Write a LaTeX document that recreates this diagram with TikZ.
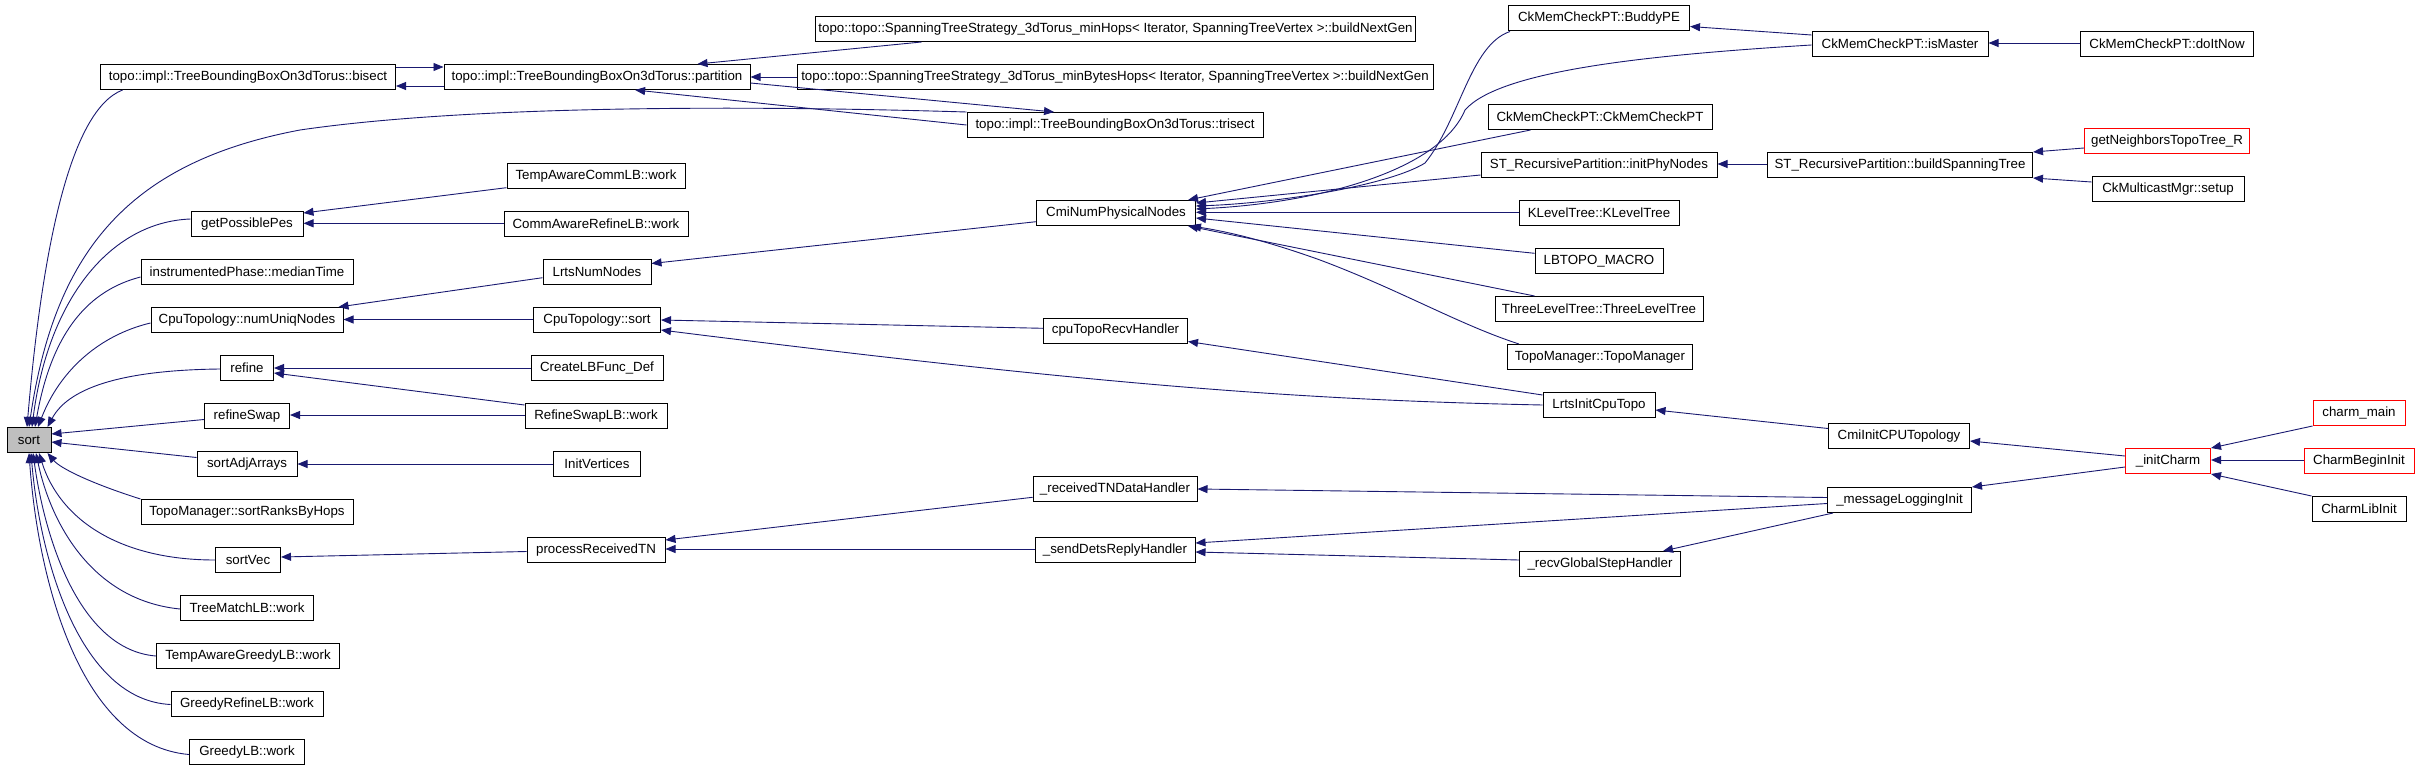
\documentclass[tikz,border=0pt]{standalone}
\usepackage{fontspec}
\setmainfont{Liberation Sans}
\usetikzlibrary{arrows.meta}
\definecolor{navyc}{HTML}{191970}
\definecolor{sortgray}{HTML}{BFBFBF}
\tikzset{
  fbox/.style={draw=black, line width=1pt, minimum height=25pt, inner xsep=2pt, inner ysep=0pt, fill=white,
    font=\fontsize{13.3}{16}\selectfont},
  rbox/.style={fbox, draw=red},
  calledge/.style={draw=navyc, line width=0.9pt, -{Triangle[length=10pt,width=8pt]}}
}
\begin{document}
\begin{tikzpicture}[x=1pt,y=-1pt]
\useasboundingbox (0,0) rectangle (2419,768);
% column 0/1
\node[fbox,minimum width=44pt,fill=sortgray] (sort) at (29,440) {sort};
\node[fbox,minimum width=295pt] (bisect) at (248,77) {topo::impl::TreeBoundingBoxOn3dTorus::bisect};
\node[fbox,minimum width=306pt] (partition) at (597,77) {topo::impl::TreeBoundingBoxOn3dTorus::partition};
\node[fbox,minimum width=112pt] (getpp) at (247,224) {getPossiblePes};
\node[fbox,minimum width=212pt] (median) at (247,272) {instrumentedPhase::medianTime};
\node[fbox,minimum width=192pt] (numuniq) at (247,320) {CpuTopology::numUniqNodes};
\node[fbox,minimum width=53pt] (refine) at (247,368) {refine};
\node[fbox,minimum width=85pt] (refineswap) at (247,416) {refineSwap};
\node[fbox,minimum width=100pt] (sortadj) at (247,464) {sortAdjArrays};
\node[fbox,minimum width=212pt] (sortranks) at (247,512) {TopoManager::sortRanksByHops};
\node[fbox,minimum width=65pt] (sortvec) at (248,560) {sortVec};
\node[fbox,minimum width=133pt] (treematch) at (247,608) {TreeMatchLB::work};
\node[fbox,minimum width=183pt] (tagreedy) at (248,656) {TempAwareGreedyLB::work};
\node[fbox,minimum width=152pt] (grefine) at (247,704) {GreedyRefineLB::work};
\node[fbox,minimum width=115pt] (greedy) at (247,752) {GreedyLB::work};
% column 2
\node[fbox,minimum width=178pt] (tacomm) at (596,176) {TempAwareCommLB::work};
\node[fbox,minimum width=184pt] (carefine) at (596,224) {CommAwareRefineLB::work};
\node[fbox,minimum width=108pt] (lrtsnum) at (597,272) {LrtsNumNodes};
\node[fbox,minimum width=127pt] (cpusort) at (597,320) {CpuTopology::sort};
\node[fbox,minimum width=132pt] (createlb) at (597,368) {CreateLBFunc\_Def};
\node[fbox,minimum width=142pt] (rswaplb) at (596,416) {RefineSwapLB::work};
\node[fbox,minimum width=87pt] (initvert) at (597,464) {InitVertices};
\node[fbox,minimum width=138pt] (procrecv) at (596,550) {processReceivedTN};
% column 3
\node[fbox,minimum width=600pt] (minhops) at (1115.5,29) {topo::topo::SpanningTreeStrategy\_3dTorus\_minHops< Iterator, SpanningTreeVertex >::buildNextGen};
\node[fbox,minimum width=636pt] (minbytes) at (1115,77) {topo::topo::SpanningTreeStrategy\_3dTorus\_minBytesHops< Iterator, SpanningTreeVertex >::buildNextGen};
\node[fbox,minimum width=296pt] (trisect) at (1115,125) {topo::impl::TreeBoundingBoxOn3dTorus::trisect};
\node[fbox,minimum width=159pt] (cminum) at (1116,213) {CmiNumPhysicalNodes};
\node[fbox,minimum width=144pt] (cputopo) at (1115.5,330.5) {cpuTopoRecvHandler};
\node[fbox,minimum width=164pt] (rectn) at (1115,489) {\_receivedTNDataHandler};
\node[fbox,minimum width=160pt] (senddets) at (1115,550) {\_sendDetsReplyHandler};
% column 4
\node[fbox,minimum width=181pt] (buddy) at (1599,18.5) {CkMemCheckPT::BuddyPE};
\node[fbox,minimum width=224pt] (ckmem) at (1600,117) {CkMemCheckPT::CkMemCheckPT};
\node[fbox,minimum width=236pt] (initphy) at (1599,165) {ST\_RecursivePartition::initPhyNodes};
\node[fbox,minimum width=160pt] (klevel) at (1599,213) {KLevelTree::KLevelTree};
\node[fbox,minimum width=128pt] (lbtopo) at (1599,261) {LBTOPO\_MACRO};
\node[fbox,minimum width=208pt] (threelevel) at (1599,309) {ThreeLevelTree::ThreeLevelTree};
\node[fbox,minimum width=185pt] (topomgr) at (1600,357) {TopoManager::TopoManager};
\node[fbox,minimum width=112pt] (lrtsinit) at (1599,405) {LrtsInitCpuTopo};
\node[fbox,minimum width=161pt] (recvglobal) at (1600,564) {\_recvGlobalStepHandler};
% column 5
\node[fbox,minimum width=176pt] (ismaster) at (1900,44) {CkMemCheckPT::isMaster};
\node[fbox,minimum width=265pt] (buildst) at (1900,165) {ST\_RecursivePartition::buildSpanningTree};
\node[fbox,minimum width=141pt] (cmiinit) at (1899,436) {CmiInitCPUTopology};
\node[fbox,minimum width=144pt] (msglog) at (1899.5,500) {\_messageLoggingInit};
% column 6
\node[fbox,minimum width=173pt] (doitnow) at (2167,44) {CkMemCheckPT::doItNow};
\node[rbox,minimum width=165pt] (getneigh) at (2167,141) {getNeighborsTopoTree\_R};
\node[fbox,minimum width=152pt] (mcast) at (2168,189) {CkMulticastMgr::setup};
\node[rbox,minimum width=85pt] (initcharm) at (2168,461) {\_initCharm};
% column 7
\node[rbox,minimum width=92pt] (charmmain) at (2359,413) {charm\_main};
\node[rbox,minimum width=110pt] (charmbegin) at (2359,461) {CharmBeginInit};
\node[fbox,minimum width=94pt] (charmlib) at (2359,509) {CharmLibInit};

% edges into sort
\draw[calledge] ([xshift=22.6pt]bisect.south west) .. controls (70,110) and (42,250) .. ([xshift=-2pt]sort.north);
\draw[calledge] (trisect.north west) .. controls (700,104) and (450,108) .. (300,130) .. controls (130,162) and (55,250) .. (sort.north);
\draw[calledge] ([yshift=5pt]getpp.west) .. controls (110,222) and (48,300) .. ([xshift=3pt]sort.north);
\draw[calledge] ([yshift=-5pt]median.west) .. controls (90,290) and (52,330) .. ([xshift=6pt]sort.north);
\draw[calledge] ([yshift=-3pt]numuniq.west) .. controls (100,335) and (60,370) .. ([xshift=9pt]sort.north);
\draw[calledge] ([yshift=-1pt]refine.west) .. controls (130,370) and (70,385) .. ([xshift=-4pt]sort.north east);
\draw[calledge] ([yshift=-3.5pt]refineswap.west) -- ([yshift=6pt]sort.east);
\draw[calledge] ([yshift=6.5pt]sortadj.west) -- ([yshift=-2pt]sort.east);
\draw[calledge] (sortranks.north west) .. controls (90,483) and (60,468) .. ([xshift=-4pt]sort.south east);
\draw[calledge] (sortvec.west) .. controls (120,560) and (60,520) .. ([xshift=10pt]sort.south);
\draw[calledge] ([yshift=-1pt]treematch.west) .. controls (90,600) and (50,520) .. ([xshift=7pt]sort.south);
\draw[calledge] (tagreedy.west) .. controls (80,650) and (45,540) .. ([xshift=4pt]sort.south);
\draw[calledge] ([yshift=-0.5pt]grefine.west) .. controls (80,700) and (40,560) .. ([xshift=2pt]sort.south);
\draw[calledge] ([yshift=-2.5pt]greedy.west) .. controls (80,745) and (38,580) .. (sort.south);

% partition / bisect / trisect
\draw[calledge] ([yshift=10pt]bisect.east) -- ([yshift=10pt]partition.west);
\draw[calledge] ([yshift=-9pt]partition.west) -- ([yshift=-9pt]bisect.east);
\draw[calledge] ([xshift=106.5pt]minhops.south west) -- ([xshift=-53pt]partition.north east);
\draw[calledge] (minbytes.west) -- (partition.east);
\draw[calledge] ([yshift=-6pt]partition.east) -- ([xshift=87.5pt]trisect.north west);
\draw[calledge] (trisect.west) -- ([xshift=191.6pt]partition.south west);

% column 2 -> column 1
\draw[calledge] ([yshift=-11.7pt]tacomm.west) -- ([yshift=-2pt]getpp.north east);
\draw[calledge] ([yshift=0.7pt]carefine.west) -- ([yshift=0.7pt]getpp.east);
\draw[calledge] ([yshift=-5.7pt]lrtsnum.west) -- ([xshift=-5pt]numuniq.north east);
\draw[calledge] ([yshift=0.5pt]cpusort.west) -- ([yshift=0.5pt]numuniq.east);
\draw[calledge] (createlb.west) -- (refine.east);
\draw[calledge] ([yshift=11pt]rswaplb.west) -- ([yshift=-5pt]refine.east);
\draw[calledge] ([yshift=1pt]rswaplb.west) -- ([yshift=1pt]refineswap.east);
\draw[calledge] (initvert.west) -- (sortadj.east);
\draw[calledge] ([yshift=-1.5pt]procrecv.west) -- ([yshift=3pt]sortvec.east);

% column 3 -> column 2
\draw[calledge] ([yshift=-8.7pt]cminum.west) -- ([yshift=8.5pt]lrtsnum.east);
\draw[calledge] ([yshift=2.2pt]cputopo.west) -- (cpusort.east);
\draw[calledge] (lrtsinit.west) .. controls (1300,400) and (1100,385) .. ([yshift=-10pt]cpusort.east);
\draw[calledge] ([yshift=10pt]lrtsinit.west) -- ([yshift=-11pt]cputopo.east);
\draw[calledge] ([yshift=-8.3pt]rectn.west) -- ([yshift=10pt]procrecv.east);
\draw[calledge] ([yshift=1pt]senddets.west) -- ([yshift=1pt]procrecv.east);

% column 4 -> CmiNumPhysicalNodes
\draw[calledge] ([xshift=2pt]buddy.south west) .. controls (1470,45) and (1460,120) .. (1425,163) .. controls (1390,185) and (1280,203) .. ([yshift=7pt]cminum.east);
\draw[calledge] ([yshift=-1pt]ismaster.west) .. controls (1650,55) and (1500,70) .. (1465,110) .. controls (1440,170) and (1320,203) .. ([yshift=4pt]cminum.east);
\draw[calledge] ([xshift=43pt]ckmem.south west) -- ([xshift=-8pt]cminum.north east);
\draw[calledge] ([yshift=-10pt]initphy.west) -- ([yshift=10pt]cminum.east);
\draw[calledge] ([yshift=0.7pt]klevel.west) -- ([yshift=0.7pt]cminum.east);
\draw[calledge] ([yshift=7.7pt]lbtopo.west) -- ([yshift=-5pt]cminum.east);
\draw[calledge] ([xshift=40pt]threelevel.north west) -- ([xshift=-8pt]cminum.south east);
\draw[calledge] ([xshift=12pt]topomgr.north west) .. controls (1460,325) and (1400,290) .. (1320,260) .. controls (1270,242) and (1230,232) .. ([xshift=-5pt]cminum.south east);

% right part
\draw[calledge] ([yshift=9pt]ismaster.west) -- ([yshift=-8pt]buddy.east);
\draw[calledge] ([yshift=1pt]doitnow.west) -- ([yshift=1pt]ismaster.east);
\draw[calledge] ([yshift=1pt]buildst.west) -- ([yshift=1pt]initphy.east);
\draw[calledge] ([yshift=-7pt]getneigh.west) -- (buildst.north east);
\draw[calledge] ([yshift=7pt]mcast.west) -- (buildst.south east);
\draw[calledge] ([yshift=7.5pt]cmiinit.west) -- ([yshift=-5pt]lrtsinit.east);
\draw[calledge] ([yshift=2.5pt]msglog.west) -- (rectn.east);
\draw[calledge] ([yshift=-3.5pt]msglog.west) -- ([yshift=7pt]senddets.east);
\draw[calledge] ([yshift=4pt]recvglobal.west) -- ([yshift=-2pt]senddets.east);
\draw[calledge] ([xshift=6pt]msglog.south west) -- ([xshift=-18pt]recvglobal.north east);
\draw[calledge] ([yshift=5pt]initcharm.west) -- ([yshift=-5pt]cmiinit.east);
\draw[calledge] ([yshift=-6pt]initcharm.west) -- (msglog.north east);
\draw[calledge] (charmmain.south west) -- (initcharm.north east);
\draw[calledge] ([yshift=1pt]charmbegin.west) -- ([yshift=1pt]initcharm.east);
\draw[calledge] (charmlib.north west) -- (initcharm.south east);
\end{tikzpicture}
\end{document}
